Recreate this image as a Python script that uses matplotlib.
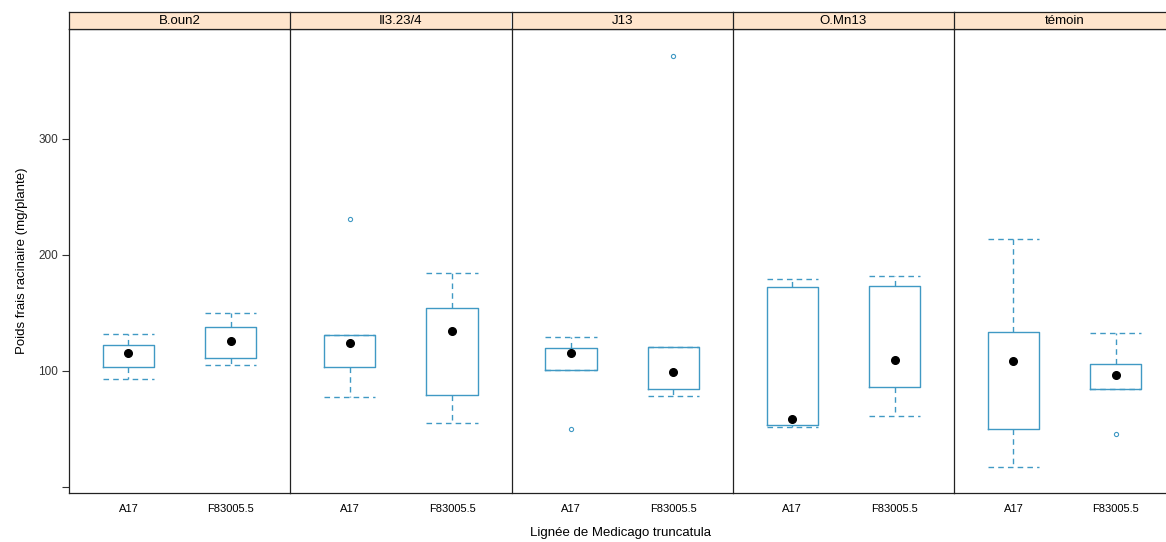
import matplotlib
matplotlib.use("Agg")
import matplotlib.pyplot as plt

plt.rcParams['font.family'] = ['Liberation Sans', 'DejaVu Sans']

panels = ["B.oun2", "Il3.23/4", "J13", "O.Mn13", "témoin"]
genotypes = ["A17", "F83005.5"]

# per panel: [A17, F83005.5]
whisker_low = [[93.4, 105.4], [77.3, 54.9], [100.9, 78.2], [51.7, 61.2], [17.2, 84.5]]
q1 = [[103.7, 111.5], [103.7, 79.3], [100.9, 84.5], [53.4, 86.2], [50.0, 84.5]]
median = [[115.8, 125.6], [124.1, 134.7], [115.8, 99.1], [58.6, 109.8], [108.9, 96.6]]
q3 = [[122.2, 138.2], [130.7, 154.3], [120.1, 120.7], [172.7, 173.3], [133.6, 106.3]]
whisker_high = [[131.6, 149.7], [130.7, 184.5], [129.0, 120.7], [179.6, 181.6], [213.8, 133.0]]
outliers = [[[], []], [[231.0], []], [[49.7], [371.2]], [[], []], [[], [45.7]]]

yticks = [0, 100, 200, 300]
ytick_labels = ["", "100", "200", "300"]

col = "#4099c4"
W, H = 1166, 542
fig = plt.figure(figsize=(W / 100, H / 100), dpi=100)

left_px, pw = 69, 221.25
top_px, strip_top_px, bottom_px = 29, 12, 493

for i, name in enumerate(panels):
    x0 = (left_px + i * pw) / W
    ax = fig.add_axes([x0, 1 - bottom_px / H, pw / W, (bottom_px - top_px) / H])
    sax = fig.add_axes([x0, 1 - top_px / H, pw / W, (top_px - strip_top_px) / H])
    ax.set_facecolor('none')
    stats = []
    for j, g in enumerate(genotypes):
        stats.append(dict(whislo=whisker_low[i][j], q1=q1[i][j], med=median[i][j],
                          q3=q3[i][j], whishi=whisker_high[i][j],
                          fliers=outliers[i][j], label=g))
    pos = [1, 2]
    ax.bxp(stats, positions=pos, widths=0.5, capwidths=0.5,
           boxprops=dict(color=col, linewidth=1.0),
           whiskerprops=dict(color=col, linewidth=1.0, linestyle=(0, (4, 3))),
           capprops=dict(color=col, linewidth=1.0, linestyle=(0, (4, 3))),
           medianprops=dict(visible=False),
           flierprops=dict(marker='o', markersize=3, markerfacecolor='none',
                           markeredgecolor=col, markeredgewidth=0.8, linestyle='none'))
    ax.plot(pos, median[i], 'o', color='black', markersize=5.5, zorder=5)
    ax.set_xlim(0.42, 2.58)
    ax.set_ylim(-5.2, 394.8)
    ax.set_xticks(pos)
    ax.set_xticklabels(genotypes, fontsize=8)
    ax.tick_params(axis='x', length=0, pad=8)
    if i == 0:
        ax.set_yticks(yticks)
        ax.set_yticklabels(ytick_labels, fontsize=8.5)
        ax.tick_params(axis='y', length=5, pad=3, colors='#333333')
        ax.set_ylabel("Poids frais racinaire (mg/plante)", fontsize=9.5, labelpad=7)
    else:
        ax.set_yticks([])
    for sp in ax.spines.values():
        sp.set_color('#222222')
        sp.set_linewidth(0.9)
    sax.set_facecolor('#ffe5cc')
    sax.set_xticks([])
    sax.set_yticks([])
    for sp in sax.spines.values():
        sp.set_color('#222222')
        sp.set_linewidth(0.9)
    if i < len(panels) - 1:
        ax.spines['right'].set_visible(False)
        sax.spines['right'].set_visible(False)
    sax.text(0.5, 0.45, name, ha='center', va='center', fontsize=9.5, transform=sax.transAxes)

fig.text(621 / W, 1 - 533 / H, "Lignée de Medicago truncatula",
         ha='center', va='center', fontsize=9.5)

fig.savefig("out.png", dpi=100)
